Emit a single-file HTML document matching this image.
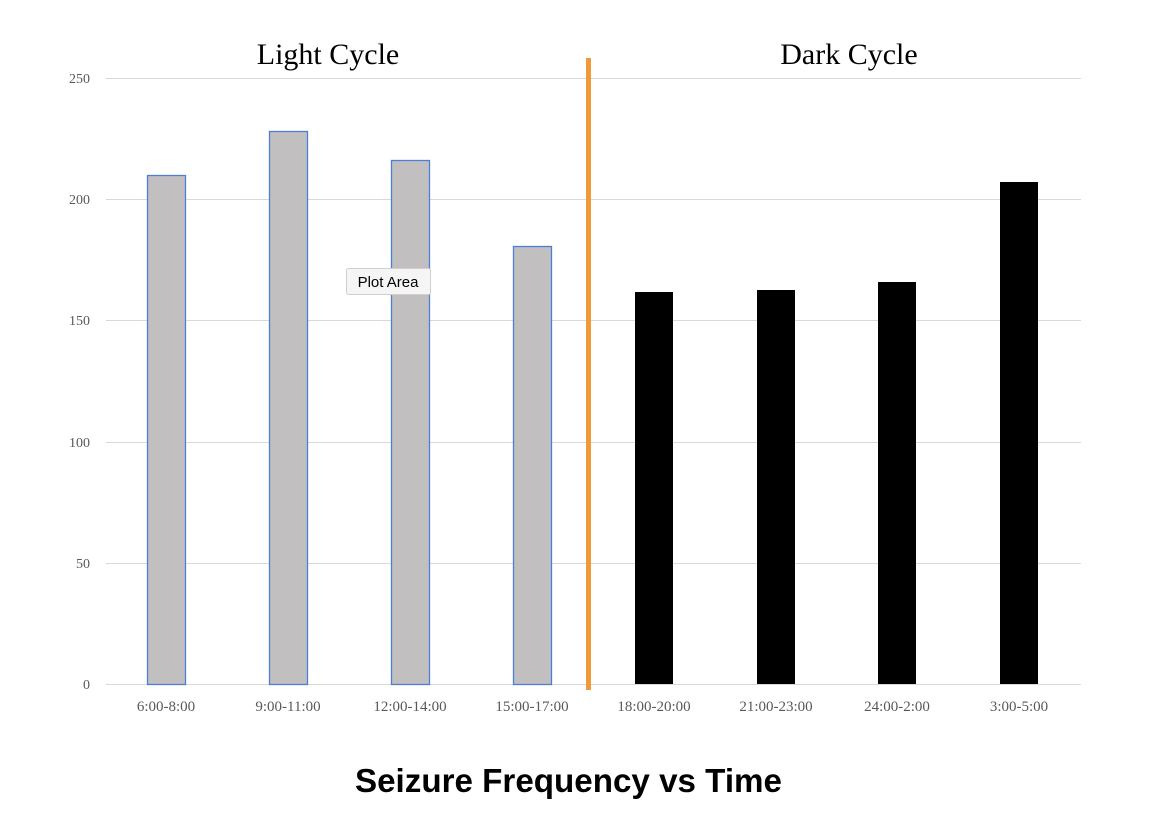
<!DOCTYPE html>
<html><head><style>body{margin:0;background:#fff}svg{display:block}</style></head><body>
<svg width="1154" height="840" xmlns="http://www.w3.org/2000/svg">
<rect width="1154" height="840" fill="#fff"/>
<g stroke="#d9d9d9" stroke-width="1">
<line x1="106" y1="78.5" x2="1081" y2="78.5"/>
<line x1="106" y1="199.5" x2="1081" y2="199.5"/>
<line x1="106" y1="320.5" x2="1081" y2="320.5"/>
<line x1="106" y1="442.5" x2="1081" y2="442.5"/>
<line x1="106" y1="563.5" x2="1081" y2="563.5"/>
<line x1="106" y1="684.5" x2="1081" y2="684.5"/>
</g>
<g font-family="Liberation Serif, serif" font-size="14" fill="#595959" text-anchor="end">
<text x="90" y="83">250</text><text x="90" y="204">200</text><text x="90" y="325">150</text>
<text x="90" y="447">100</text><text x="90" y="568">50</text><text x="90" y="689">0</text>
</g>
<g fill="#c2bfc1" stroke="#4a7fd4" stroke-width="1.3">
<rect x="147.5" y="175.5" width="38" height="509"/>
<rect x="269.5" y="131.5" width="38" height="553"/>
<rect x="391.5" y="160.5" width="38" height="524"/>
<rect x="513.5" y="246.5" width="38" height="438"/>
</g>
<g fill="#000">
<rect x="635" y="292" width="38" height="392"/>
<rect x="757" y="290" width="38" height="394"/>
<rect x="878" y="282" width="38" height="402"/>
<rect x="1000" y="182" width="38" height="502"/>
</g>
<rect x="586" y="58" width="5" height="632" fill="#ef9a3a"/>
<g font-family="Liberation Serif, serif" font-size="15" fill="#595959" text-anchor="middle">
<text x="166" y="711">6:00-8:00</text><text x="288" y="711">9:00-11:00</text>
<text x="410" y="711">12:00-14:00</text><text x="532" y="711">15:00-17:00</text>
<text x="654" y="711">18:00-20:00</text><text x="776" y="711">21:00-23:00</text>
<text x="897" y="711">24:00-2:00</text><text x="1019" y="711">3:00-5:00</text>
</g>
<g font-family="Liberation Serif, serif" font-size="30" fill="#000" text-anchor="middle">
<text x="328" y="64">Light Cycle</text><text x="849" y="64">Dark Cycle</text>
</g>
<text x="355" y="792" textLength="427" lengthAdjust="spacingAndGlyphs" font-family="Liberation Sans, sans-serif" font-weight="bold" font-size="33">Seizure Frequency vs Time</text>
<rect x="346.5" y="268.5" width="84" height="26" rx="2" fill="#f5f5f5" stroke="#cfcfcf"/>
<text x="388" y="287" font-family="Liberation Sans, sans-serif" font-size="15" text-anchor="middle" fill="#000">Plot Area</text>
</svg>
</body></html>
